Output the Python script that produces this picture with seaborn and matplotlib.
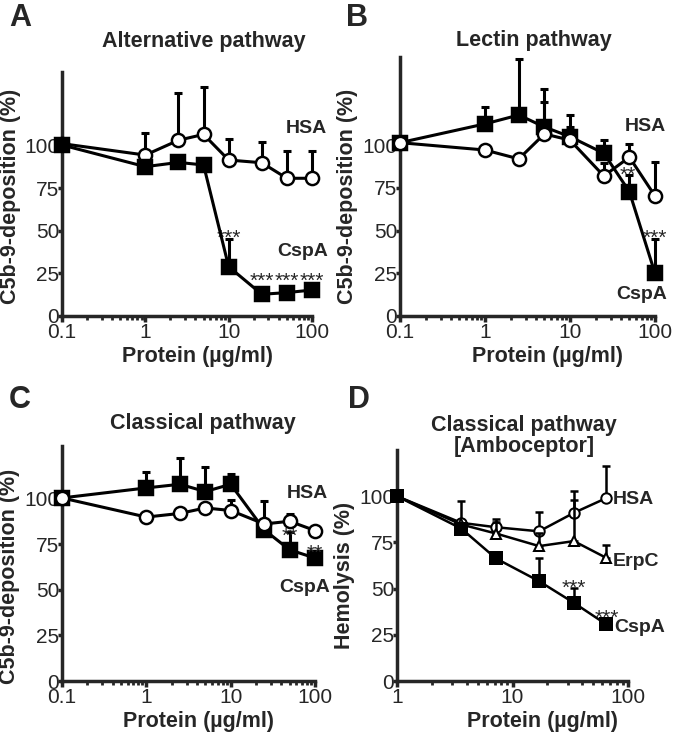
import matplotlib
matplotlib.use("Agg")
import matplotlib.pyplot as plt
import numpy as np
import pandas as pd
import seaborn as sns
from matplotlib.ticker import FixedLocator, LogLocator, NullFormatter

sns.set_style("ticks")
plt.rcParams['font.family'] = ['Liberation Sans', 'DejaVu Sans']

nan = np.nan

# concentrations (ug/ml)
conc_abc = [0.1, 1, 2.5, 5, 10, 25, 50, 100]
conc_d = [1, 3.6, 7.2, 17, 34, 65]

# A - alternative pathway
alt_hsa = [101, 94.3, 103, 106.4, 91.4, 89.8, 80.7, 80.7]
alt_hsa_top = [nan, 107.4, 130.8, 134, 103.5, 102, 96.8, 96.8]
alt_cspa = [100.2, 87.5, 90, 88.5, 28.9, 12.7, 13.7, 15.2]
alt_cspa_top = [nan, nan, nan, nan, 45, nan, nan, nan]

# B - lectin pathway
lec_hsa = [101.5, 97.2, 92, 106.6, 103, 82, 93, 70.3]
lec_hsa_top = [nan, nan, nan, 125.4, 110.7, 89.6, 101, 90]
lec_cspa = [101.5, 112.5, 117.7, 110.7, 105, 95.3, 72.8, 25]
lec_cspa_top = [nan, 122.4, 150.5, 133, 117.7, 103, 82.6, 45]

# C - classical pathway
cla_hsa = [100.5, 90, 92, 95, 93.6, 86.2, 87.7, 82.6]
cla_hsa_top = [nan, nan, nan, nan, 99.6, 99, 91.7, nan]
cla_cspa = [100.5, 106, 108, 104, 108, 83, 72, 67.5]
cla_cspa_top = [nan, 114.7, 122.6, 117.4, 113.8, nan, 82, nan]

# D - hemolysis
hem_hsa = [100, 85.6, 83.2, 81, 91, 99]
hem_hsa_top = [nan, 97.6, 87.9, 91.5, 102.7, 116.2]
hem_erpc = [100, 84.7, 79.8, 73, 75.7, 66.6]
hem_erpc_top = [nan, nan, 86, 80, 98, 73.8]
hem_cspa = [100, 82.5, 66.3, 54, 42.3, 30.6]
hem_cspa_top = [nan, nan, nan, 66.6, 50.4, nan]


def draw_series(ax, x, y, top, marker, filled, ms, lw, z):
    df = pd.DataFrame({'x': x, 'y': y, 'top': top})
    err = df.dropna()
    if len(err):
        ax.errorbar(err['x'], err['y'], yerr=[np.zeros(len(err)), err['top'] - err['y']],
                    fmt='none', ecolor='black', elinewidth=lw, capsize=3, capthick=lw,
                    zorder=z - 0.5, clip_on=False)
    sns.lineplot(data=df, x='x', y='y', ax=ax, color='black', lw=lw, marker=marker, ms=ms,
                 mfc='black' if filled else 'white', mec='black', mew=lw * 0.8,
                 zorder=z, clip_on=False)


def style_axes(ax, xmin, xticks, xlabels, ytop):
    ax.set_xscale('log')
    ax.set_xlim(xmin, 100)
    ax.set_ylim(0, ytop)
    ax.set_yticks([0, 25, 50, 75, 100])
    ax.xaxis.set_major_locator(FixedLocator(xticks))
    ax.set_xticklabels(xlabels)
    ax.xaxis.set_minor_locator(LogLocator(base=10, subs=range(2, 10), numticks=20))
    ax.xaxis.set_minor_formatter(NullFormatter())
    sns.despine(ax=ax)
    for s in ['left', 'bottom']:
        ax.spines[s].set_linewidth(2.5)
    ax.tick_params(axis='x', which='major', length=4, width=2.5, pad=1, labelsize=15)
    ax.tick_params(axis='x', which='minor', length=3, width=2)
    ax.tick_params(axis='y', length=3, width=2.5, pad=-1, labelsize=15)
    ax.set_xlabel('Protein (µg/ml)', fontsize=15.5, fontweight='bold')


def stars(ax, x, y, s):
    ax.annotate(s, (x, y), xytext=(0, -8), textcoords='offset points',
                ha='center', va='baseline', fontsize=15)


def label(ax, xf, y, s, ha='center'):
    ax.text(xf, y, s, transform=ax.get_yaxis_transform(), ha=ha, va='center',
            fontsize=14, fontweight='bold')


fig = plt.figure(figsize=(6.76, 7.36), dpi=100)
axA = fig.add_axes([0.0917, 0.5707, 0.3698, 0.3315])
axB = fig.add_axes([0.5917, 0.5707, 0.3772, 0.3519])
axC = fig.add_axes([0.0917, 0.0747, 0.3743, 0.3193])
axD = fig.add_axes([0.5873, 0.0747, 0.3417, 0.3139])

abc_ticks = [0.1, 1, 10, 100]
abc_labels = ['0.1', '1', '10', '100']

# A
draw_series(axA, conc_abc, alt_hsa, alt_hsa_top, 'o', False, 9.5, 2.2, 3)
draw_series(axA, conc_abc, alt_cspa, alt_cspa_top, 's', True, 10.5, 2.2, 4)
style_axes(axA, 0.1, abc_ticks, abc_labels, 143)
axA.set_ylabel('C5b-9-deposition (%)', fontsize=15.5, fontweight='bold')
axA.yaxis.set_label_coords(-0.165, 0.49)
axA.xaxis.set_label_coords(0.542, -0.123)
axA.text(0.568, 1.123, 'Alternative pathway', transform=axA.transAxes, ha='center',
         va='center', fontsize=15.5, fontweight='bold')
label(axA, 0.976, 110, 'HSA')
label(axA, 0.964, 37.7, 'CspA')
stars(axA, 10, 48.6, '***')
for xv in [25, 50, 100]:
    stars(axA, xv, 23.6, '***')

# B
draw_series(axB, conc_abc, lec_cspa, lec_cspa_top, 's', True, 10.5, 2.2, 3)
draw_series(axB, conc_abc, lec_hsa, lec_hsa_top, 'o', False, 9.5, 2.2, 4)
style_axes(axB, 0.1, abc_ticks, abc_labels, 151.7)
axB.set_ylabel('C5b-9-deposition (%)', fontsize=15.5, fontweight='bold')
axB.yaxis.set_label_coords(-0.165, 0.463)
axB.xaxis.set_label_coords(0.58, -0.116)
axB.text(0.525, 1.062, 'Lectin pathway', transform=axB.transAxes, ha='center',
         va='center', fontsize=15.5, fontweight='bold')
label(axB, 0.964, 110.7, 'HSA')
label(axB, 0.948, 12.3, 'CspA')
stars(axB, 48, 85.5, '**')
stars(axB, 100, 48.8, '***')

# C
draw_series(axC, conc_abc, cla_cspa, cla_cspa_top, 's', True, 10.5, 2.2, 3)
draw_series(axC, conc_abc, cla_hsa, cla_hsa_top, 'o', False, 9.5, 2.2, 4)
style_axes(axC, 0.1, abc_ticks, abc_labels, 129)
axC.set_ylabel('C5b-9-deposition (%)', fontsize=15.5, fontweight='bold')
axC.yaxis.set_label_coords(-0.165, 0.445)
axC.xaxis.set_label_coords(0.54, -0.126)
axC.text(0.557, 1.094, 'Classical pathway', transform=axC.transAxes, ha='center',
         va='center', fontsize=15.5, fontweight='bold')
label(axC, 0.968, 102.7, 'HSA')
label(axC, 0.96, 51.4, 'CspA')
stars(axC, 50, 82.6, '**')
stars(axC, 100, 73.4, '**')

# D
draw_series(axD, conc_d, hem_hsa, hem_hsa_top, 'o', False, 7.5, 1.8, 3)
draw_series(axD, conc_d, hem_erpc, hem_erpc_top, '^', False, 7.5, 1.8, 4)
draw_series(axD, conc_d, hem_cspa, hem_cspa_top, 's', True, 8, 1.8, 5)
style_axes(axD, 1, [1, 10, 100], ['1', '10', '100'], 125)
axD.set_ylabel('Hemolysis (%)', fontsize=15.5, fontweight='bold')
axD.yaxis.set_label_coords(-0.18, 0.455)
axD.xaxis.set_label_coords(0.63, -0.128)
axD.text(0.55, 1.108, 'Classical pathway', transform=axD.transAxes, ha='center',
         va='center', fontsize=15.5, fontweight='bold')
axD.text(0.55, 1.017, '[Amboceptor]', transform=axD.transAxes, ha='center',
         va='center', fontsize=15.5, fontweight='bold')
label(axD, 0.935, 98.3, 'HSA', ha='left')
label(axD, 0.935, 64.9, 'ErpC', ha='left')
label(axD, 0.942, 28.8, 'CspA', ha='left')
stars(axD, 34, 53, '***')
stars(axD, 65, 36.9, '***')

# panel letters
for s, xf, yf in [('A', 0.0296, 0.9755), ('B', 0.528, 0.9755),
                  ('C', 0.0296, 0.4565), ('D', 0.531, 0.4565)]:
    fig.text(xf, yf, s, ha='center', va='center', fontsize=22, fontweight='bold')

fig.savefig('out.png', dpi=100)
